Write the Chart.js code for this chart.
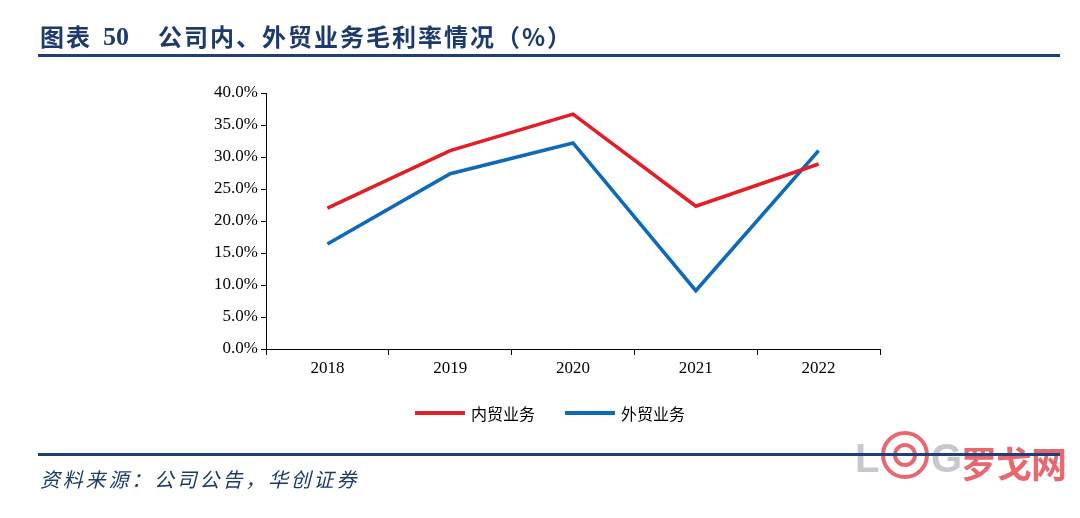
<!DOCTYPE html>
<html>
<head>
<meta charset="utf-8">
<script src="https://cdn.jsdelivr.net/npm/chart.js@4.4.1/dist/chart.umd.min.js"></script>
<style>
  html, body { margin: 0; padding: 0; background: #fff; }
  #page { position: relative; width: 1080px; height: 518px; overflow: hidden; }
  #chart { position: absolute; left: 0; top: 0; }
  .t { position: absolute; white-space: nowrap; color: #1d3a6e; }
  .title { top: 18px; font: bold 24px "Noto Sans CJK SC", sans-serif; letter-spacing: 2px; }
  .num { top: 22px; font: bold 26px "Liberation Serif", serif; }
  .rule { position: absolute; left: 38px; width: 1022px; height: 3px; background: #1f3f7a; }
  .src { top: 464px; left: 40px; font: italic 20px "Noto Sans CJK SC", sans-serif; letter-spacing: 2.8px; }
  .legend { position: absolute; top: 401px; font: 16px "Noto Sans CJK SC", sans-serif; color: #000; }
  .legend span.sw { position: absolute; top: 10px; width: 50px; height: 4px; }
  .legend span.tx { position: absolute; left: 56px; top: 0; white-space: nowrap; }
  .wm { position: absolute; top: 434px; left: 855px; height: 50px; opacity: 0.8; white-space: nowrap; }
</style>
</head>
<body>
<div id="page">
  <canvas id="chart" width="1080" height="518"></canvas>

  <div class="t title" style="left:40px;">图表</div>
  <div class="t num" style="left:103px;">50</div>
  <div class="t title" style="left:158px;">公司内、外贸业务毛利率情况（%）</div>
  <div class="rule" style="top:54px;"></div>

  <div class="legend" id="legend"></div>

  <div class="wm">
    <span style="position:absolute;left:0;top:2px;font:bold 40px 'Liberation Sans',sans-serif;color:#b7bcc2;">L</span>
    <span style="position:absolute;left:26px;top:-3px;width:40px;height:40px;border:4px solid #e2444b;border-radius:50%;"></span>
    <span style="position:absolute;left:38px;top:9px;width:16px;height:16px;border:4px solid #e2444b;border-radius:50%;"></span>
    <span style="position:absolute;left:76px;top:2px;font:bold 40px 'Liberation Sans',sans-serif;color:#b7bcc2;">G</span>
    <span style="position:absolute;left:106px;top:2px;font:bold 36px 'Noto Sans CJK SC',sans-serif;color:#e2444b;letter-spacing:-1px;">罗戈网</span>
  </div>

  <div class="rule" style="top:453px;"></div>
  <div class="t src">资料来源：公司公告，华创证券</div>
</div>

<script>
// ================= DATOS =================
const years = ['2018', '2019', '2020', '2021', '2022'];
const domesticMargin = [22.0, 31.0, 36.7, 22.3, 28.9]; // 内贸业务
const foreignMargin = [16.4, 27.4, 32.2, 9.1, 31.0];   // 外贸业务
const seriesNames = ['内贸业务', '外贸业务'];
const seriesColors = ['#e31e26', '#0e69bb'];

// ================= LEYENDA =================
function buildLegend() {
    const box = document.getElementById('legend');
    const lefts = [415, 565];
    seriesNames.forEach((name, i) => {
        const item = document.createElement('div');
        item.style.position = 'absolute';
        item.style.left = lefts[i] + 'px';
        item.innerHTML = '<span class="sw" style="background:' + seriesColors[i] + '"></span>' +
                         '<span class="tx">' + name + '</span>';
        box.appendChild(item);
    });
}

// ================= GRÁFICO =================
function createChart() {
    const ctx = document.getElementById('chart');
    const tickFont = { family: '"Liberation Serif", "Times New Roman", serif', size: 17 };

    new Chart(ctx, {
        type: 'line',
        data: {
            labels: years,
            datasets: [
                {
                    label: seriesNames[0],
                    data: domesticMargin,
                    borderColor: seriesColors[0],
                    borderWidth: 3.6,
                    pointRadius: 0,
                    tension: 0,
                    fill: false
                },
                {
                    label: seriesNames[1],
                    data: foreignMargin,
                    borderColor: seriesColors[1],
                    borderWidth: 3.6,
                    pointRadius: 0,
                    tension: 0,
                    fill: false
                }
            ]
        },
        options: {
            responsive: false,
            animation: false,
            devicePixelRatio: 1,
            layout: { padding: { left: 0, top: 93, right: 200, bottom: 139 } },
            plugins: {
                legend: { display: false },
                tooltip: { enabled: false }
            },
            scales: {
                x: {
                    offset: true,
                    grid: { display: true, offset: true, drawOnChartArea: false, drawTicks: true, tickLength: 6, color: '#000' },
                    border: { display: true, color: '#000', width: 1 },
                    ticks: { color: '#000', font: tickFont, padding: 3, maxRotation: 0 },
                    afterFit: s => { s.height = 30; }
                },
                y: {
                    min: 0,
                    max: 40,
                    grid: { display: true, drawOnChartArea: false, drawTicks: true, tickLength: 5, color: '#000' },
                    border: { display: true, color: '#000', width: 1 },
                    ticks: {
                        stepSize: 5,
                        color: '#000',
                        font: tickFont,
                        padding: 3,
                        callback: v => v.toFixed(1) + '%'
                    },
                    afterFit: s => { s.width = 266; }
                }
            }
        }
    });
}

buildLegend();
createChart();
</script>
</body>
</html>
